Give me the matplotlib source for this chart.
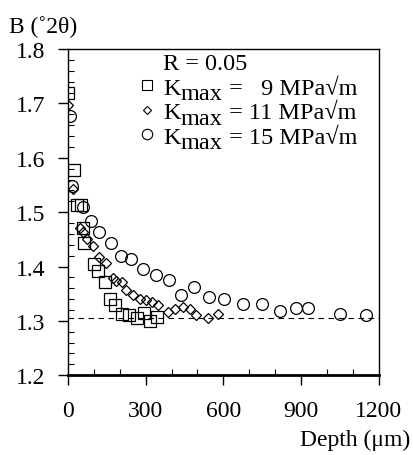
import matplotlib
matplotlib.use("Agg")
import matplotlib.pyplot as plt
from matplotlib.lines import Line2D
from matplotlib.ticker import MultipleLocator

plt.rcParams['font.family'] = ['Liberation Serif', 'DejaVu Serif']

# K_max = 9 MPa sqrt(m)
depth9 = [2, 23, 34, 50, 58, 64, 100, 115, 145, 162, 180, 210, 237, 268, 295, 318, 345]
b9 = [1.720, 1.578, 1.513, 1.513, 1.470, 1.443, 1.405, 1.392, 1.371, 1.341, 1.329,
      1.312, 1.311, 1.305, 1.315, 1.300, 1.307]

# K_max = 11 MPa sqrt(m)
depth11 = [0, 21, 47, 58, 72, 95, 120, 147, 176, 187, 207, 225, 252, 278, 302, 324,
           348, 385, 412, 443, 470, 496, 540, 578]
b11 = [1.697, 1.543, 1.470, 1.464, 1.450, 1.437, 1.418, 1.406, 1.378, 1.374, 1.371,
       1.356, 1.347, 1.340, 1.339, 1.335, 1.329, 1.317, 1.322, 1.325, 1.321, 1.311,
       1.305, 1.313]

# K_max = 15 MPa sqrt(m)
depth15 = [7, 14, 57, 90, 120, 165, 206, 245, 290, 340, 390, 438, 486, 543, 601, 674,
           748, 820, 882, 928, 1052, 1150]
b15 = [1.677, 1.548, 1.510, 1.483, 1.464, 1.443, 1.420, 1.413, 1.395, 1.385, 1.376,
       1.348, 1.363, 1.343, 1.340, 1.331, 1.331, 1.318, 1.324, 1.323, 1.313, 1.311]

baseline = 1.306
r_label = "R = 0.05"
k_values = ["  9", "11", "15"]

FS = 17
LFS = 17.5

fig = plt.figure(figsize=(4.14, 4.56), dpi=100)
ax = fig.add_axes([0.164, 0.175, 0.751, 0.715])

ax.axhline(baseline, color='black', lw=0.8, ls=(0, (5, 4)), zorder=1)
ax.plot(depth9, b9, ls='none', marker='s', ms=8, mfc='none', mec='black', mew=0.9)
ax.plot(depth11, b11, ls='none', marker='D', ms=5.5, mfc='none', mec='black', mew=0.9)
ax.plot(depth15, b15, ls='none', marker='o', ms=8.5, mfc='none', mec='black', mew=0.9)

ax.set_xlim(0, 1200)
ax.set_ylim(1.2, 1.8)
ax.xaxis.set_major_locator(MultipleLocator(300))
ax.xaxis.set_minor_locator(MultipleLocator(100))
ax.yaxis.set_major_locator(MultipleLocator(0.1))
ax.yaxis.set_minor_locator(MultipleLocator(0.02))
ax.yaxis.set_major_formatter(plt.FuncFormatter(lambda v, p: f"{v:.1f}"))
ax.tick_params(which='major', direction='out', length=7, width=1, labelsize=FS)
ax.tick_params(which='minor', direction='in', length=4, width=0.8)
ax.tick_params(axis='x', which='major', pad=11)
ax.tick_params(axis='y', which='major', pad=9)
for s in ax.spines.values():
    s.set_linewidth(1.0)
ax.spines['bottom'].set_linewidth(2)

# legend: markers from ax.legend, "max" drawn lowered at full size after each "K"
handles = [Line2D([], [], ls='none', marker=None),
           Line2D([], [], ls='none', marker='s', ms=7, mfc='none', mec='black', mew=0.8),
           Line2D([], [], ls='none', marker='D', ms=4.5, mfc='none', mec='black', mew=0.8),
           Line2D([], [], ls='none', marker='o', ms=7.5, mfc='none', mec='black', mew=0.8)]
leg = ax.legend(handles, [r_label, "K", "K", "K"], loc='upper left', frameon=False,
                fontsize=LFS, handlelength=0.75, handletextpad=0.3, labelspacing=0.1,
                borderaxespad=0.0, borderpad=0.0, bbox_to_anchor=(0.225, 0.99))
for t, kv in zip(leg.get_texts()[1:], k_values):
    sub = ax.annotate("max", xy=(1, 0), xycoords=t, xytext=(0, -4),
                      textcoords='offset points', fontsize=LFS, ha='left', va='bottom',
                      zorder=6)
    ax.annotate(" = " + kv + " MPa\u221am", xy=(1, 0), xycoords=sub, xytext=(0, 4),
                textcoords='offset points', fontsize=LFS, ha='left', va='bottom',
                zorder=7)

fig.text(0.022, 0.94, "B (\u02da2\u03b8)", fontsize=FS, ha='left', va='center')
fig.text(0.99, 0.035, "Depth (\u03bcm)", fontsize=FS, ha='right', va='center')

fig.savefig("out.png", dpi=100)
